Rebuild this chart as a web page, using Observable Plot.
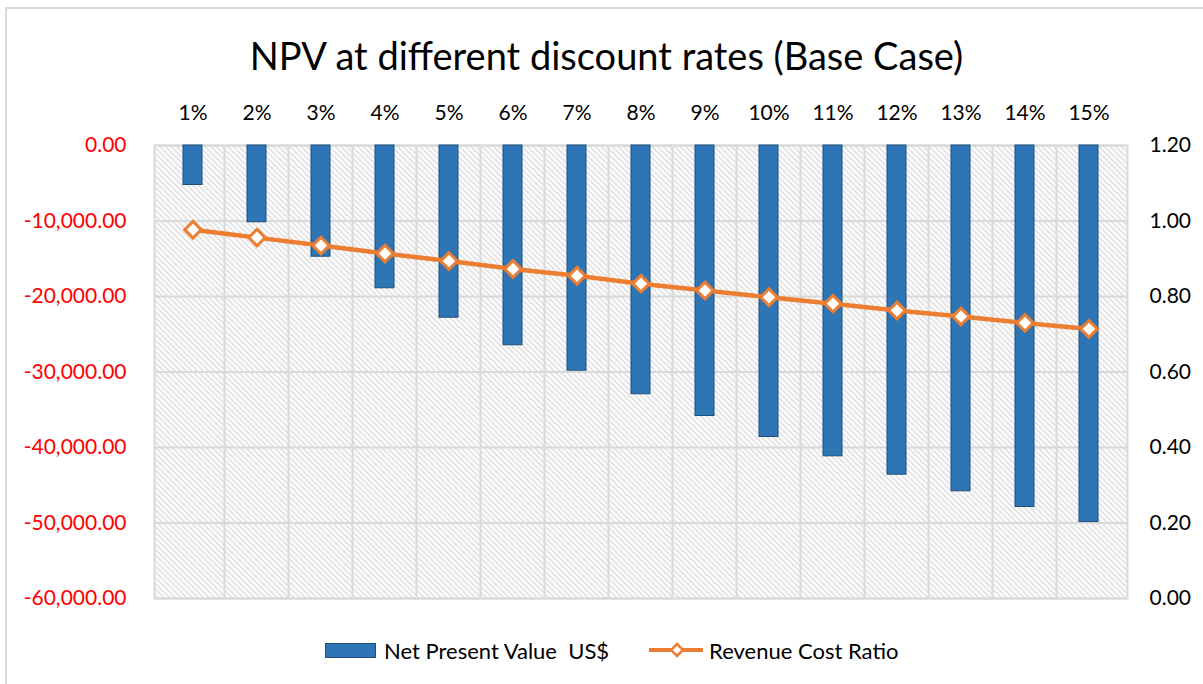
<!DOCTYPE html>
<html>
<head>
<meta charset="utf-8">
<script src="https://cdn.jsdelivr.net/npm/d3@7"></script>
<script src="https://cdn.jsdelivr.net/npm/@observablehq/plot@0.6"></script>
<style>
  html, body { margin: 0; padding: 0; background: #fff; }
  body { width: 1203px; height: 684px; position: relative; overflow: hidden; font-family: Lato, "Open Sans", sans-serif; }
  #frame { position: absolute; left: 5px; top: 7px; width: 1300px; height: 800px; border-left: 2px solid #d9d9d9; border-top: 2px solid #d9d9d9; box-sizing: border-box; }
  #title { position: relative; height: 90px; text-align: center; font-size: 38px; line-height: 90px; color: #000; padding-top: 10px; padding-left: 10px; box-sizing: border-box; white-space: nowrap; }
  #chart { position: relative; height: 530px; }
  #legend { position: relative; height: 64px; display: flex; align-items: center; font-size: 22px; color: #000; white-space: nowrap; padding-bottom: 4px; box-sizing: border-box; }
  .sw-bar { display: inline-block; width: 51px; height: 15px; background: #2e75b6; border: 1px solid #1f4e79; box-sizing: border-box; margin-left: 325px; margin-right: 8px; }
  .sw-line { display: inline-block; position: relative; width: 54px; height: 16px; margin-left: 40px; margin-right: 6px; }
</style>
</head>
<body>
<div id="frame"></div>
<div id="title">NPV at different discount rates (Base Case)</div>
<div id="chart"></div>
<div id="legend">
  <span class="sw-bar"></span><span>Net Present Value&nbsp; US$</span>
  <svg class="sw-line" width="54" height="16" viewBox="0 0 54 16"><line x1="0" y1="8" x2="54" y2="8" stroke="#ed7d31" stroke-width="4"/><path d="M28,2 L34,8 L28,14 L22,8 Z" fill="#fff" stroke="#ed7d31" stroke-width="2.5"/></svg><span>Revenue Cost Ratio</span>
</div>
<script>
// ---- data ----
const rates = ["1%","2%","3%","4%","5%","6%","7%","8%","9%","10%","11%","12%","13%","14%","15%"];
const npv = [-5230, -10170, -14730, -18910, -22810, -26460, -29830, -32950, -35830, -38610, -41170, -43600, -45800, -47880, -49870];
const ratio = [0.977, 0.956, 0.935, 0.914, 0.894, 0.873, 0.855, 0.834, 0.816, 0.798, 0.781, 0.763, 0.747, 0.730, 0.714];
const npvTicks = [0, -10000, -20000, -30000, -40000, -50000, -60000];
const ratioTicks = [0, 0.2, 0.4, 0.6, 0.8, 1.0, 1.2];

const data = rates.map((r, i) => ({rate: r, npv: npv[i], ratio: ratio[i]}));

// map the secondary (ratio) axis onto the primary NPV domain [-60000, 0]
const npvMin = -60000, npvMax = 0, ratioMax = 1.2;
const toNpv = r => npvMin + (r / ratioMax) * (npvMax - npvMin);
const fromNpv = v => (v - npvMin) / (npvMax - npvMin) * ratioMax;

const fmtNpv = d => (d < 0 ? "-" : "") + d3.format(",.2f")(Math.abs(d));

const W = 1203, H = 530;
const mL = 154, mR = 76, mT = 55, mB = 22;
const grid = "#d9d9d9";

// vertical gridlines at category boundaries, from the x band scale
function vGrid(index, scales, values, dims) {
  const x = scales.x;
  const bw = x.bandwidth();
  const step = x.step();
  const g = d3.create("svg:g");
  rates.slice(1).forEach(r => {
    const px = x(r) + bw / 2 - step / 2;
    g.append("line")
      .attr("x1", px).attr("x2", px)
      .attr("y1", dims.marginTop).attr("y2", dims.height - dims.marginBottom)
      .attr("stroke", grid).attr("stroke-width", 2);
  });
  return g.node();
}

function defs() {
  const d = d3.create("svg:defs");
  const p = d.append("pattern")
    .attr("id", "hatch").attr("patternUnits", "userSpaceOnUse")
    .attr("width", 4).attr("height", 4)
    .attr("patternTransform", "rotate(-45)");
  p.append("rect").attr("width", 4).attr("height", 4).attr("fill", "#fff");
  p.append("line").attr("x1", 1).attr("x2", 1).attr("y1", 0).attr("y2", 4)
    .attr("stroke", "#d6d6d6").attr("stroke-width", 1.3);
  return d.node();
}

const chart = Plot.plot({
  width: W,
  height: H,
  marginLeft: mL,
  marginRight: mR,
  marginTop: mT,
  marginBottom: mB,
  style: {fontFamily: "Lato, 'Open Sans', sans-serif", fontSize: "20px", color: "#000", background: "transparent"},
  x: {domain: rates, paddingInner: 0.7, paddingOuter: 0.35, axis: null},
  y: {domain: [npvMin, npvMax], axis: null},
  marks: [
    defs,
    Plot.frame({fill: "url(#hatch)", stroke: grid, strokeWidth: 2}),
    vGrid,
    Plot.gridY(npvTicks, {stroke: grid, strokeOpacity: 1, strokeWidth: 2}),
    Plot.barY(data, {x: "rate", y: "npv", fill: "#2e75b6", stroke: "#1f4e79", strokeWidth: 1}),
    Plot.line(data, {x: "rate", y: d => toNpv(d.ratio), stroke: "#ed7d31", strokeWidth: 4.5}),
    Plot.dot(data, {x: "rate", y: d => toNpv(d.ratio), symbol: "diamond2", r: 7.5, fill: "#fff", stroke: "#ed7d31", strokeWidth: 3}),
    Plot.axisX({anchor: "top", label: null, tickSize: 0, tickPadding: 26, fontSize: 21, fill: "#000"}),
    Plot.axisY(npvTicks, {anchor: "left", label: null, tickSize: 0, tickPadding: 28, tickFormat: fmtNpv, fontSize: 21, fill: "#ff0000"}),
    Plot.axisY(ratioTicks.map(toNpv), {anchor: "right", label: null, tickSize: 0, tickPadding: 22, tickFormat: v => fromNpv(v).toFixed(2), fontSize: 21, fill: "#000"})
  ]
});
document.getElementById("chart").appendChild(chart);
</script>
</body>
</html>
